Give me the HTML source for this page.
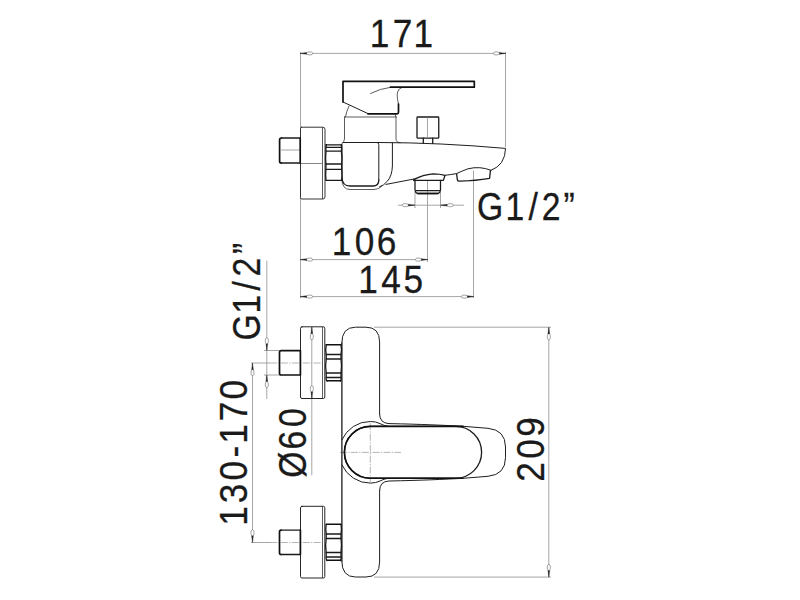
<!DOCTYPE html>
<html lang="en">
<head>
<meta charset="utf-8">
<title>Technical drawing</title>
<style>
html,body{margin:0;padding:0;background:#fff;}
body{width:800px;height:600px;overflow:hidden;}
svg{display:block;}
g{fill:none;stroke-linejoin:round;stroke-linecap:round;}
.dim{stroke:#9c9c9c;stroke-width:.9;stroke-linecap:butt;}
.arr{stroke:#444;stroke-width:.5;}
.arr path{fill:#fff;}
.arr .tip{fill:#222;stroke:#222;stroke-width:.2;}
.h{stroke:#333;stroke-width:.8;}
.o{stroke:#1e1e1e;stroke-width:1;}
.m{stroke:#1b1b1b;stroke-width:1.3;}
.t{stroke:#111;stroke-width:1.7;}
.c{stroke:#777;stroke-width:.55;stroke-dasharray:7 1.3 1.3 1.3;stroke-linecap:butt;}
text{font-family:"Liberation Sans",sans-serif;font-size:38.3px;fill:#1a1a1a;stroke:#1a1a1a;stroke-width:.3;}
</style>
</head>
<body>
<svg width="800" height="600" viewBox="0 0 800 600">
<rect width="800" height="600" fill="#fff"/>

<g class="dim">
<path d="M300.5 52V298"/>
<path d="M300.5 53.4H505.5"/>
<path d="M505.5 52V147"/>
<path d="M300.5 259.6H427.5"/>
<path d="M427.5 181V262"/>
<path d="M300.5 296.6H473.5"/>
<path d="M473.5 170.5V298"/>
<path d="M398 205.2H464"/>
<path d="M415 192V208"/>
<path d="M440.5 192V208"/>
<path d="M266.8 260.7V399"/>
<path d="M264 350.5H279.5"/>
<path d="M264 375H279.5"/>
<path d="M252.5 363V542.5"/>
<path d="M251 363H270"/>
<path d="M251 542.5H270"/>
<path d="M311.8 327V475.3"/>
<path d="M374 327.2H551"/>
<path d="M548.8 327V577.2"/>
<path d="M374 577.1H551"/>
</g>
<g class="c">
<path d="M270 363H322"/>
<path d="M270 542.5H322"/>
<path d="M340 452.4H401"/>
<path d="M370.3 423V482"/>
</g>
<g class="dim"><path d="M281 150H300"/></g>
<g class="arr">
<g transform="translate(300.5 53.4) rotate(0)"><path d="M0 0L6 -.6C7 -1.4 8 -1.5 9.6 -1.5C11.4 -1.5 12.2 -.9 12.2 0C12.2 .9 11.4 1.5 9.6 1.5C8 1.5 7 1.4 6 .6Z"/><path class="tip" d="M0 0L6.2 -.85V.85Z"/></g>
<g transform="translate(505.5 53.4) rotate(180)"><path d="M0 0L6 -.6C7 -1.4 8 -1.5 9.6 -1.5C11.4 -1.5 12.2 -.9 12.2 0C12.2 .9 11.4 1.5 9.6 1.5C8 1.5 7 1.4 6 .6Z"/><path class="tip" d="M0 0L6.2 -.85V.85Z"/></g>
<g transform="translate(300.5 259.6) rotate(0)"><path d="M0 0L6 -.6C7 -1.4 8 -1.5 9.6 -1.5C11.4 -1.5 12.2 -.9 12.2 0C12.2 .9 11.4 1.5 9.6 1.5C8 1.5 7 1.4 6 .6Z"/><path class="tip" d="M0 0L6.2 -.85V.85Z"/></g>
<g transform="translate(427.5 259.6) rotate(180)"><path d="M0 0L6 -.6C7 -1.4 8 -1.5 9.6 -1.5C11.4 -1.5 12.2 -.9 12.2 0C12.2 .9 11.4 1.5 9.6 1.5C8 1.5 7 1.4 6 .6Z"/><path class="tip" d="M0 0L6.2 -.85V.85Z"/></g>
<g transform="translate(300.5 296.6) rotate(0)"><path d="M0 0L6 -.6C7 -1.4 8 -1.5 9.6 -1.5C11.4 -1.5 12.2 -.9 12.2 0C12.2 .9 11.4 1.5 9.6 1.5C8 1.5 7 1.4 6 .6Z"/><path class="tip" d="M0 0L6.2 -.85V.85Z"/></g>
<g transform="translate(473.5 296.6) rotate(180)"><path d="M0 0L6 -.6C7 -1.4 8 -1.5 9.6 -1.5C11.4 -1.5 12.2 -.9 12.2 0C12.2 .9 11.4 1.5 9.6 1.5C8 1.5 7 1.4 6 .6Z"/><path class="tip" d="M0 0L6.2 -.85V.85Z"/></g>
<g transform="translate(414.5 205.2) rotate(180)"><path d="M0 0L6 -.6C7 -1.4 8 -1.5 9.6 -1.5C11.4 -1.5 12.2 -.9 12.2 0C12.2 .9 11.4 1.5 9.6 1.5C8 1.5 7 1.4 6 .6Z"/><path class="tip" d="M0 0L6.2 -.85V.85Z"/></g>
<g transform="translate(441.0 205.2) rotate(0)"><path d="M0 0L6 -.6C7 -1.4 8 -1.5 9.6 -1.5C11.4 -1.5 12.2 -.9 12.2 0C12.2 .9 11.4 1.5 9.6 1.5C8 1.5 7 1.4 6 .6Z"/><path class="tip" d="M0 0L6.2 -.85V.85Z"/></g>
<g transform="translate(266.8 350.0) rotate(270)"><path d="M0 0L6 -.6C7 -1.4 8 -1.5 9.6 -1.5C11.4 -1.5 12.2 -.9 12.2 0C12.2 .9 11.4 1.5 9.6 1.5C8 1.5 7 1.4 6 .6Z"/><path class="tip" d="M0 0L6.2 -.85V.85Z"/></g>
<g transform="translate(266.8 375.4) rotate(90)"><path d="M0 0L6 -.6C7 -1.4 8 -1.5 9.6 -1.5C11.4 -1.5 12.2 -.9 12.2 0C12.2 .9 11.4 1.5 9.6 1.5C8 1.5 7 1.4 6 .6Z"/><path class="tip" d="M0 0L6.2 -.85V.85Z"/></g>
<g transform="translate(252.5 363.5) rotate(90)"><path d="M0 0L6 -.6C7 -1.4 8 -1.5 9.6 -1.5C11.4 -1.5 12.2 -.9 12.2 0C12.2 .9 11.4 1.5 9.6 1.5C8 1.5 7 1.4 6 .6Z"/><path class="tip" d="M0 0L6.2 -.85V.85Z"/></g>
<g transform="translate(252.5 542.0) rotate(270)"><path d="M0 0L6 -.6C7 -1.4 8 -1.5 9.6 -1.5C11.4 -1.5 12.2 -.9 12.2 0C12.2 .9 11.4 1.5 9.6 1.5C8 1.5 7 1.4 6 .6Z"/><path class="tip" d="M0 0L6.2 -.85V.85Z"/></g>
<g transform="translate(311.8 327.5) rotate(90)"><path d="M0 0L6 -.6C7 -1.4 8 -1.5 9.6 -1.5C11.4 -1.5 12.2 -.9 12.2 0C12.2 .9 11.4 1.5 9.6 1.5C8 1.5 7 1.4 6 .6Z"/><path class="tip" d="M0 0L6.2 -.85V.85Z"/></g>
<g transform="translate(311.8 398.0) rotate(270)"><path d="M0 0L6 -.6C7 -1.4 8 -1.5 9.6 -1.5C11.4 -1.5 12.2 -.9 12.2 0C12.2 .9 11.4 1.5 9.6 1.5C8 1.5 7 1.4 6 .6Z"/><path class="tip" d="M0 0L6.2 -.85V.85Z"/></g>
<g transform="translate(548.8 327.7) rotate(90)"><path d="M0 0L6 -.6C7 -1.4 8 -1.5 9.6 -1.5C11.4 -1.5 12.2 -.9 12.2 0C12.2 .9 11.4 1.5 9.6 1.5C8 1.5 7 1.4 6 .6Z"/><path class="tip" d="M0 0L6.2 -.85V.85Z"/></g>
<g transform="translate(548.8 576.6) rotate(270)"><path d="M0 0L6 -.6C7 -1.4 8 -1.5 9.6 -1.5C11.4 -1.5 12.2 -.9 12.2 0C12.2 .9 11.4 1.5 9.6 1.5C8 1.5 7 1.4 6 .6Z"/><path class="tip" d="M0 0L6.2 -.85V.85Z"/></g>
</g>
<g class="h">
<path d="M322.5 127.6V198.6"/>
</g><g class="dim" style="stroke:#777"><path d="M300.5 163.5H322.5"/></g><g class="h">
<path d="M344.5 117H396"/>
<path d="M396 117V139Q396 142.5 400 142.7"/>
<path d="M395 114L396 117"/>
<path d="M349 106Q346.5 111 345.5 116.8"/>
<path d="M370.5 93.5Q380 88.6 390.5 87.3"/>
<path d="M398.4 104Q396.6 96 397.6 92Q398.6 88.4 402 87.4"/>
<path d="M341.8 179Q342 189.5 350 189.5H374Q379 189.5 382 186"/>
</g>
<g class="o">
</g><g class="h" style="stroke:#2a2a2a;stroke-width:.95"><path d="M301.5 127.2H322.8Q325 127.2 325 129.4V196.8Q325 199 322.8 199H302Q300.5 199 300.5 197.5V128.5Q300.5 127.2 301.5 127.2Z"/></g><g class="o">
</g><g class="m" style="stroke-width:1.35">
<path d="M326.4 144.8Q325.4 148 326 151.2Q325.2 158 325.9 164V169.3Q325.3 175 326 180.4"/>
<path d="M341.2 144.8Q342 148 341.4 151.2Q342.4 158 341.7 164V169.3Q342.4 175 341.8 180.4"/>
<path d="M326 147.4H341.3M326 164H341.6M326 169.3H341.6"/>
</g><g class="o">
</g><g class="h"><path d="M344.5 117V139Q344.3 141.6 341.8 144"/></g><g class="o">
<path d="M343 142.5H379Q440 142.6 505.5 148.4Q505.6 156 501.5 162.5Q497.5 168 491 170.3"/>
<path d="M342 144.5V178"/>
<path d="M377.4 142.6Q378.8 142.8 378.8 144.5V180"/>
<path d="M392.4 142.6V166Q392 176 387.5 181Q384 185.5 379.5 187"/>
<path d="M386 184.4L414 179"/>
<path d="M445 175.3Q451 174.6 456.5 173.6Q462 171 468 168.8Q480 165.8 491 170.3"/>
<path d="M343 102L368 113.6"/>
</g>
<g class="m">
<path d="M325.6 144.8H341.4M326 151.2H341M326 180.4H341.4"/>
<path d="M342 178Q342.4 186 350 186H373Q378.8 186 378.8 180"/>
<path d="M414 179.4Q423 174.6 433 173.8Q440 173.8 445 175.3L443.4 180.4H413.6Z"/>
<path d="M415 180.5V189.5Q415.2 193.4 418.5 193.5H437Q440.3 193.4 440.5 189.5V180.5"/>
<path d="M416 190.6H439.5"/>
<path d="M456.6 173.8L457.4 180Q457.8 181.3 459.5 181.2Q476 180.6 489.6 178.3L490.4 170.6"/>
<rect x="417" y="117" width="21.75" height="21.2" rx="0.8"/>
<path d="M423.3 138.2V143M432.7 138.2V143.4"/>
</g>
<g class="dim"><path d="M427.5 117.5V138"/></g>
<g class="t">
<path d="M281.4 138Q279.6 138 279.6 140V161.2Q279.6 163 281.4 163M300.2 138V163"/>
</g><g class="m"><path d="M281.4 138H300.2M281.4 163H300.2"/></g><g class="t">
<path d="M390.5 87.2H474.3V81.3H343V102"/>
<path d="M368 113.8H397Q398.5 113.8 398.5 112.3V104"/>
<path d="M417.5 193.5H438"/>
</g>
<g transform="translate(0 0.0)">
<g class="h"><path d="M322.5 327.2V398.2"/></g>
<g class="o" style="stroke:#262626">
<path d="M302 326.8H323.3Q324.8 326.8 324.8 328.3V397Q324.8 398.5 323.3 398.5H302Q300.5 398.5 300.5 397V328.3Q300.5 326.8 302 326.8Z"/>
</g>
<g class="m">
<path d="M326.2 345Q325.2 349.5 326.2 354.5V359Q325 366 326.2 373V377.5Q325.8 380 327 381"/>
<path d="M341 345Q342 349.5 341 354.5V359Q342 366 341 373V377.5Q341.4 380 340.4 381"/>
<path d="M326.2 354.5H341M326.2 359H341M326.2 373H341M326.2 377.5H341"/>
</g>
<g class="t" style="stroke-width:1.5">
<path d="M326.2 344.8H341.2M327 380.8H340.4"/>
</g>
<g class="t">
<path d="M300.4 350.6H281.2Q279.5 350.6 279.5 352.3V373.3Q279.5 375 281.2 375H300.4Z"/>
</g>
</g>
<g transform="translate(0 179.5)">
<g class="h"><path d="M322.5 327.2V398.2"/></g>
<g class="o" style="stroke:#262626">
<path d="M302 326.8H323.3Q324.8 326.8 324.8 328.3V397Q324.8 398.5 323.3 398.5H302Q300.5 398.5 300.5 397V328.3Q300.5 326.8 302 326.8Z"/>
</g>
<g class="m">
<path d="M326.2 345Q325.2 349.5 326.2 354.5V359Q325 366 326.2 373V377.5Q325.8 380 327 381"/>
<path d="M341 345Q342 349.5 341 354.5V359Q342 366 341 373V377.5Q341.4 380 340.4 381"/>
<path d="M326.2 354.5H341M326.2 359H341M326.2 373H341M326.2 377.5H341"/>
</g>
<g class="t" style="stroke-width:1.5">
<path d="M326.2 344.8H341.2M327 380.8H340.4"/>
</g>
<g class="t">
<path d="M281.2 350.6Q279.5 350.6 279.5 352.3V373.3Q279.5 375 281.2 375M300.4 350.6V375"/>
</g>
<g class="m">
<path d="M281.2 350.6H300.4M281.2 375H300.4"/>
</g>
</g>
<g class="o">
<path d="M379.6 414V342Q379.6 327.2 366 327.2H355.5Q341.8 327.2 341.8 343"/>
<path d="M379.6 490.5V562Q379.6 577 366 577H355.5Q341.8 577 341.8 561"/>
<path d="M379.6 414Q379.6 423.2 389 423.6C420 424.2 445 425.3 463 426.3L488 428.3Q505.5 430 505.5 447V457.6Q505.5 474.6 488 476.3L463 478.3C445 479.3 420 480.4 389 481Q379.6 481.4 379.6 490.5"/>
<path d="M342 439.6A30.8 30.8 0 0 1 370.3 421.5Q376 421.5 380 423.6Q384 425.8 388 426.3"/>
<path d="M342 465A30.8 30.8 0 0 0 370.3 483.1Q376 483.1 380 481Q384 478.8 388 478.3"/>
</g>
<g class="m">
<path d="M341.9 343V561"/>
<path d="M370.3 426.4H455.7A25.9 25.9 0 0 1 455.7 478.2H370.3A25.9 25.9 0 0 1 370.3 426.4Z"/>
</g>
<g class="t" style="stroke-width:1.6">
<path d="M463 426.4H370.3A25.9 25.9 0 0 0 370.3 478.2H463"/>
</g>
<text transform="scale(0.92 1)" x="401.9 426.8 449.4" y="47.0">171</text>
<text transform="scale(0.88 1)" x="542.1 574.4 600.6 615.6 640.4" y="220.5">G1/2”</text>
<text transform="scale(0.92 1)" x="360.5 385.7 409.4" y="255.1">106</text>
<text transform="scale(0.92 1)" x="389.5 414.4 438.5" y="293.3">145</text>
<text transform="translate(259.6 600) rotate(-90) scale(0.88 1)" x="294.9 325.7 351.6 367.5 393.1" y="0">G1/2”</text>
<text transform="translate(246.9 600) rotate(-90) scale(0.92 1)" x="80.8 105.1 130.0 154.8 169.9 194.3 218.0" y="0">130-170</text>
<text transform="translate(306.0 600) rotate(-90) scale(0.88 1)" x="138.9 171.0 196.5" y="0">Ø60</text>
<text transform="translate(543.7 600) rotate(-90) scale(0.92 1)" x="128.5 153.4 177.4" y="0">209</text>
</svg>
</body>
</html>
